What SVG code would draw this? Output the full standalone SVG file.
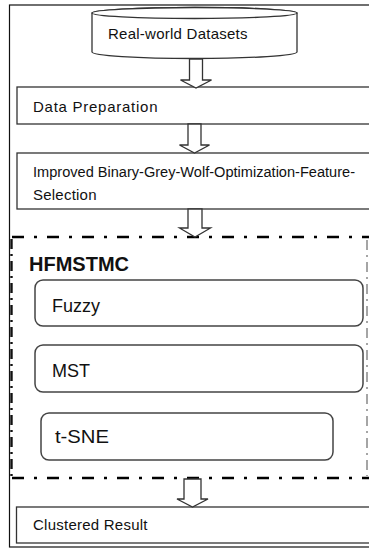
<svg xmlns="http://www.w3.org/2000/svg" width="369" height="549" viewBox="0 0 369 549">
<style>
  .frame{fill:none;stroke:#111;stroke-width:1.2}
  .box{fill:#fff;stroke:#333;stroke-width:1.3}
  .rbox{fill:#fff;stroke:#444;stroke-width:1.5}
  .lbl{font-family:"Liberation Sans",Arial,sans-serif;font-size:15px;fill:#111;letter-spacing:0.5px}
  .lbl2{font-family:"Liberation Sans",Arial,sans-serif;font-size:14px;fill:#111}
  .big{font-family:"Liberation Sans",Arial,sans-serif;font-size:18px;fill:#111}
  .title{font-family:"Liberation Sans",Arial,sans-serif;font-size:20px;font-weight:bold;fill:#111}
  .arrow{fill:#fff;stroke:#333;stroke-width:1.3;stroke-linejoin:miter}
  .dash{fill:none;stroke:#000;stroke-width:2.6;stroke-dasharray:12 10 3 10}
  .dashv{fill:none;stroke:#111;stroke-width:2.4;stroke-dasharray:10 5 2 5}
  .dashr{fill:none;stroke:#888;stroke-width:1.5;stroke-dasharray:10 5 2 5}
</style>
<rect x="0" y="0" width="369" height="549" fill="#fff"/>
<g id="frame">
  <rect class="frame" x="9.5" y="5" width="380" height="542"/>
</g>
<g id="hfmstmc">
  <line class="dash" x1="12" y1="237" x2="369" y2="237"/>
  <line class="dash" x1="12" y1="478" x2="369" y2="478"/>
  <line class="dashv" x1="11.5" y1="239" x2="11.5" y2="477"/>
  <line class="dashr" x1="367" y1="240" x2="367" y2="476"/>
  <text class="title" x="29" y="271">HFMSTMC</text>
</g>
<g id="datasets">
  <path class="box" d="M92 13 L92 52 A102.5 6.5 0 0 0 297 52 L297 13 A102.5 5.5 0 0 0 92 13 Z"/>
  <ellipse class="box" cx="194.5" cy="13" rx="102.5" ry="5.5" fill="none"/>
  <text class="lbl" x="108" y="39" textLength="140" lengthAdjust="spacing">Real-world Datasets</text>
</g>
<g id="prep">
  <rect class="box" x="17" y="87" width="370" height="37"/>
  <text class="lbl" x="33" y="112" textLength="125" lengthAdjust="spacing">Data Preparation</text>
</g>
<g id="ibgwo">
  <rect class="box" x="17" y="153" width="370" height="56"/>
  <text class="lbl2" x="33" y="177" textLength="322" lengthAdjust="spacingAndGlyphs">Improved Binary-Grey-Wolf-Optimization-Feature-</text>
  <text class="lbl" x="33" y="200" textLength="64" lengthAdjust="spacing">Selection</text>
</g>
<g id="fuzzy">
  <rect class="rbox" x="35" y="280" width="328" height="46" rx="8"/>
  <text class="big" x="52" y="312">Fuzzy</text>
</g>
<g id="mst">
  <rect class="rbox" x="35" y="345" width="328" height="47" rx="8"/>
  <text class="big" x="52" y="377">MST</text>
</g>
<g id="tsne">
  <rect class="rbox" x="41" y="413" width="292" height="47" rx="8"/>
  <text class="big" x="55" y="443" textLength="54" lengthAdjust="spacingAndGlyphs">t-SNE</text>
</g>
<g id="result">
  <rect class="box" x="16.5" y="507" width="370" height="36"/>
  <text class="lbl" x="33" y="530" textLength="115" lengthAdjust="spacing">Clustered Result</text>
</g>
<g id="connectors">
  <path class="arrow" d="M189.5 59 L202.5 59 L202.5 80 L211.5 80 L196 88 L180.5 80 L189.5 80 Z"/>
  <path class="arrow" d="M188 124 L201 124 L201 145 L209.5 145 L194.5 153 L179.5 145 L188 145 Z"/>
  <path class="arrow" d="M188 209 L202 209 L202 228 L210.5 228 L195 237 L179.5 228 L188 228 Z"/>
  <path class="arrow" d="M184 479 L201 479 L201 499 L208 499 L192.5 507 L177 499 L184 499 Z"/>
</g>
</svg>
